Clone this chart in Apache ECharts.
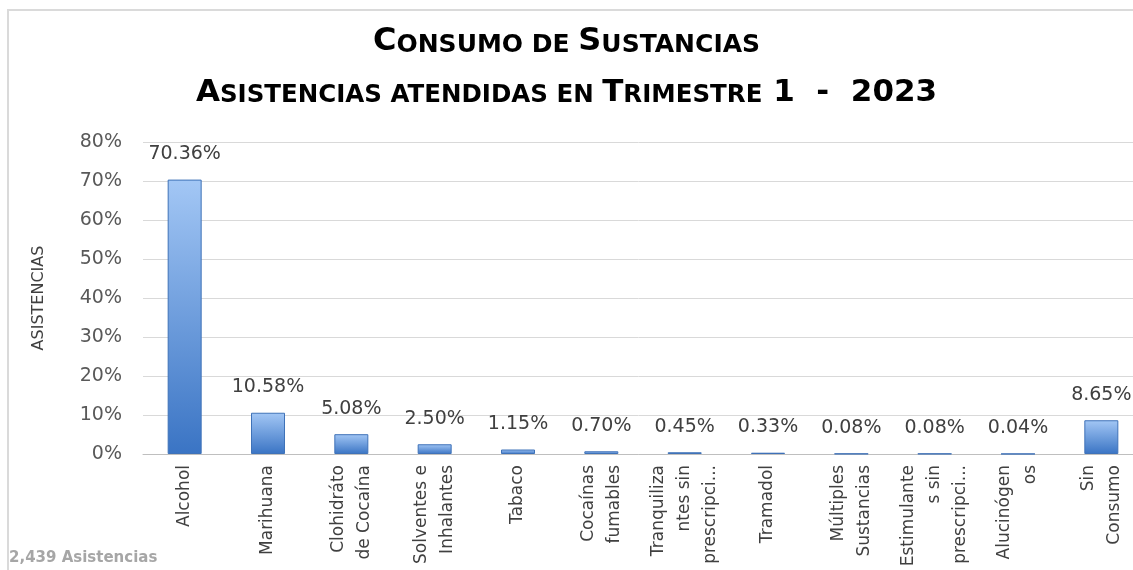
<!DOCTYPE html>
<html>
<head>
<meta charset="utf-8">
<title>Consumo de Sustancias</title>
<script src="https://cdn.jsdelivr.net/npm/echarts@6/dist/echarts.min.js"></script>
<style>
  html, body { margin: 0; padding: 0; background: #fff; }
  #Chart { width: 1133px; height: 570px; }
</style>
</head>
<body>
<div id="Chart"></div>
<script>
// categorias (etiquetas ya partidas como en el original)
const categorias = [
  "Alcohol",
  "Marihuana",
  "Clohidráto\nde Cocaína",
  "Solventes e\nInhalantes",
  "Tabaco",
  "Cocaínas\nfumables",
  "Tranquiliza\nntes sin\nprescripci...",
  "Tramadol",
  "Múltiples\nSustancias",
  "Estimulante\ns sin\nprescripci...",
  "Alucinógen\nos",
  "Sin\nConsumo"
];
// porcentaje de asistencias
const porcentajes = [70.36, 10.58, 5.08, 2.5, 1.15, 0.7, 0.45, 0.33, 0.08, 0.08, 0.04, 8.65];
const totalAsistencias = "2,439 Asistencias";

const chart = echarts.init(document.getElementById("Chart"));

const grande = { fontFamily: "DejaVu Sans", fontWeight: "bold", color: "#000", verticalAlign: "bottom" };

const option = {
  animation: false,
  title: [
    {
      text: "{g|C}{p|ONSUMO DE }{g|S}{p|USTANCIAS}",
      left: "center",
      top: 26,
      padding: [0, 0, 0, 16],
      textStyle: {
        rich: {
          g: Object.assign({ fontSize: 32, lineHeight: 32 }, grande),
          p: Object.assign({ fontSize: 25, lineHeight: 25 }, grande)
        }
      }
    },
    {
      text: "{g|A}{p|SISTENCIAS ATENDIDAS EN }{g|T}{p|RIMESTRE}{g| 1  -  2023}",
      left: "center",
      top: 77,
      padding: [0, 0, 0, 12],
      textStyle: {
        rich: {
          g: Object.assign({ fontSize: 31, lineHeight: 31 }, grande),
          p: Object.assign({ fontSize: 24.5, lineHeight: 24.5 }, grande)
        }
      }
    }
  ],
  graphic: [
    {
      type: "rect",
      shape: { x: 8, y: 10, width: 1200, height: 600 },
      style: { fill: "none", stroke: "#DADADA", lineWidth: 2 },
      silent: true
    },
    {
      type: "text",
      left: 9,
      top: 551,
      style: {
        text: totalAsistencias,
        fontFamily: "DejaVu Sans",
        fontWeight: "bold",
        fontSize: 15,
        fill: "#A6A6A6"
      }
    }
  ],
  grid: {
    top: 142,
    left: 143,
    width: 1000,
    height: 312,
    outerBoundsMode: "none"
  },
  xAxis: {
    type: "category",
    data: categorias,
    axisLine: { lineStyle: { color: "#BFBFBF", width: 1 } },
    axisTick: { show: false },
    axisLabel: {
      interval: 0,
      rotate: 90,
      margin: 11,
      fontFamily: "DejaVu Sans",
      fontSize: 17,
      lineHeight: 26,
      color: "#404040"
    }
  },
  yAxis: {
    type: "value",
    min: 0,
    max: 80,
    interval: 10,
    name: "ASISTENCIAS",
    nameLocation: "middle",
    nameGap: 96,
    nameTextStyle: {
      fontFamily: "DejaVu Sans",
      fontSize: 16,
      color: "#404040"
    },
    axisLine: { show: false },
    axisTick: { show: false },
    axisLabel: {
      formatter: "{value}%",
      margin: 21,
      fontFamily: "DejaVu Sans",
      fontSize: 19,
      color: "#595959"
    },
    splitLine: { lineStyle: { color: "#D9D9D9", width: 1 } }
  },
  series: [
    {
      type: "bar",
      data: porcentajes,
      barWidth: 34,
      itemStyle: {
        color: {
          type: "linear",
          x: 0,
          y: 0,
          x2: 0,
          y2: 1,
          colorStops: [
            { offset: 0, color: "#A3C7F5" },
            { offset: 1, color: "#3A74C4" }
          ]
        },
        borderColor: "#3F72B8",
        borderWidth: 1
      },
      label: {
        show: true,
        position: "top",
        distance: 16,
        formatter: p => p.value.toFixed(2) + "%",
        fontFamily: "DejaVu Sans",
        fontSize: 19,
        color: "#404040"
      }
    }
  ]
};

chart.setOption(option);
</script>
</body>
</html>
